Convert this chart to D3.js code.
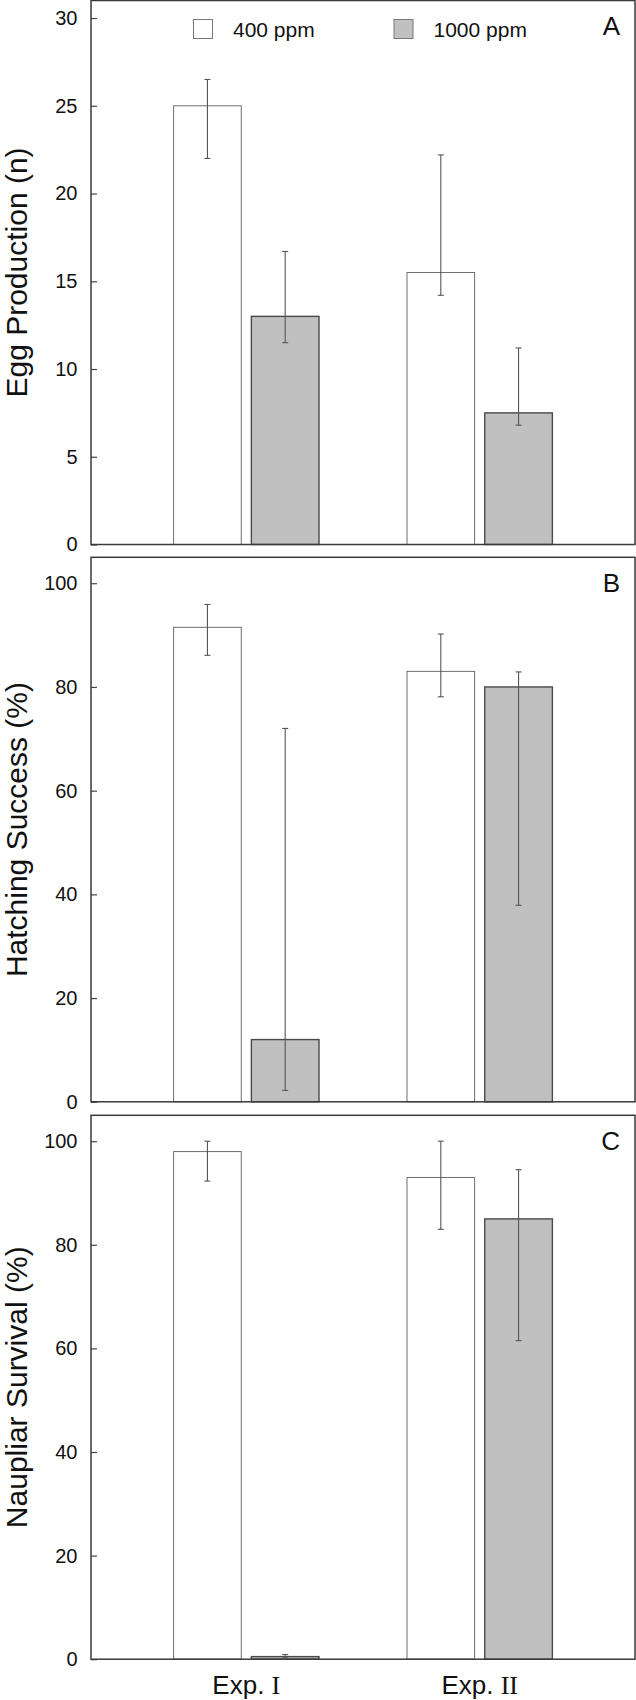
<!DOCTYPE html>
<html>
<head>
<meta charset="utf-8">
<script src="https://cdn.jsdelivr.net/npm/d3@7"></script>
<style>
  body { margin: 0; background: #fff; }
  text { font-family: "Liberation Sans", Arial, sans-serif; fill: #111; }
</style>
</head>
<body>
<div id="chart"></div>
<script>
// experiments and CO2 treatments
const groups = ['Exp. I', 'Exp. II'];
const numerals = ['I', 'II'];
const series = ['400 ppm', '1000 ppm'];

// A - egg production (n), [Exp I, Exp II]
const egg400 = [25, 15.5];
const egg400Upper = [26.5, 22.2];
const egg400Lower = [22, 14.2];
const egg1000 = [13, 7.5];
const egg1000Upper = [16.7, 11.2];
const egg1000Lower = [11.5, 6.8];

// B - hatching success (%)
const hatch400 = [91.5, 83];
const hatch400Upper = [95.9, 90.2];
const hatch400Lower = [86.1, 78.1];
const hatch1000 = [12, 80];
const hatch1000Upper = [72, 82.9];
const hatch1000Lower = [2.2, 37.9];

// C - naupliar survival (%)
const naup400 = [98, 93];
const naup400Upper = [100, 100];
const naup400Lower = [92.3, 83];
const naup1000 = [0.5, 85];
const naup1000Upper = [0.9, 94.5];
const naup1000Lower = [0.4, 61.5];

const eggTicks = [0, 5, 10, 15, 20, 25, 30];
const pctTicks = [0, 20, 40, 60, 80, 100];

const panels = [
    { label: 'A', title: 'Egg Production (n)', max: 31, ticks: eggTicks, top: 0.5, bottom: 544.5,
      mean: [egg400, egg1000], upper: [egg400Upper, egg1000Upper], lower: [egg400Lower, egg1000Lower] },
    { label: 'B', title: 'Hatching Success (%)', max: 105, ticks: pctTicks, top: 557.3, bottom: 1101.8,
      mean: [hatch400, hatch1000], upper: [hatch400Upper, hatch1000Upper], lower: [hatch400Lower, hatch1000Lower] },
    { label: 'C', title: 'Naupliar Survival (%)', max: 105, ticks: pctTicks, top: 1115.3, bottom: 1659.2,
      mean: [naup400, naup1000], upper: [naup400Upper, naup1000Upper], lower: [naup400Lower, naup1000Lower] },
];

const fills = ['#ffffff', '#c0c0c0'];
const strokes = ['#6e6e6e', '#4a4a4a'];
const left = 91, right = 635;

const svg = d3.select('#chart')
    .append('svg')
    .attr('width', 636)
    .attr('height', 1700);

const xGroup = d3.scaleBand()
    .domain(groups)
    .range([left, right])
    .paddingInner(0.377)
    .paddingOuter(0.354);

const xSeries = d3.scaleBand()
    .domain(series)
    .range([0, xGroup.bandwidth()])
    .paddingInner(0.13);

panels.forEach(p => {
    const y = d3.scaleLinear()
        .domain([0, p.max])
        .range([p.bottom, p.top]);

    const g = svg.append('g');

    // bars
    series.forEach((s, si) => {
        groups.forEach((grp, gi) => {
            const x0 = xGroup(grp) + xSeries(s);
            g.append('rect')
                .attr('x', x0)
                .attr('y', y(p.mean[si][gi]))
                .attr('width', xSeries.bandwidth())
                .attr('height', y(0) - y(p.mean[si][gi]))
                .attr('fill', fills[si])
                .attr('stroke', strokes[si])
                .attr('stroke-width', si ? 1.4 : 1);
        });
    });

    // error bars
    series.forEach((s, si) => {
        groups.forEach((grp, gi) => {
            const cx = xGroup(grp) + xSeries(s) + xSeries.bandwidth() / 2;
            const hi = y(p.upper[si][gi]);
            const lo = y(p.lower[si][gi]);
            const eb = g.append('g')
                .attr('stroke', '#555')
                .attr('stroke-width', 1.1);
            eb.append('line').attr('x1', cx).attr('x2', cx).attr('y1', hi).attr('y2', lo);
            eb.append('line').attr('x1', cx - 3).attr('x2', cx + 3).attr('y1', hi).attr('y2', hi);
            eb.append('line').attr('x1', cx - 3).attr('x2', cx + 3).attr('y1', lo).attr('y2', lo);
        });
    });

    // y axis, ticks pointing inward
    const axis = g.append('g')
        .attr('transform', 'translate(' + left + ',0)')
        .call(d3.axisLeft(y).tickValues(p.ticks).tickSize(-6).tickPadding(13.5));
    axis.select('.domain').remove();
    axis.selectAll('.tick line').attr('stroke', '#444').attr('stroke-width', 1.2);
    axis.selectAll('.tick text')
        .style('font-size', '20px')
        .style('font-family', '"Liberation Sans", Arial, sans-serif')
        .attr('fill', '#111');

    // frame
    g.append('rect')
        .attr('x', left)
        .attr('y', p.top)
        .attr('width', right - left)
        .attr('height', p.bottom - p.top)
        .attr('fill', 'none')
        .attr('stroke', '#3a3a3a')
        .attr('stroke-width', 1.5);

    // panel letter
    g.append('text')
        .attr('x', 620)
        .attr('y', p.top + 34.5)
        .attr('text-anchor', 'end')
        .style('font-size', '26px')
        .text(p.label);

    // y title
    g.append('text')
        .attr('transform', 'translate(27,' + ((p.top + p.bottom) / 2) + ') rotate(-90)')
        .attr('text-anchor', 'middle')
        .style('font-size', '30px')
        .text(p.title);
});

// legend
const legendX = [193.5, 394];
series.forEach((s, si) => {
    svg.append('rect')
        .attr('x', legendX[si])
        .attr('y', 19.5)
        .attr('width', 19)
        .attr('height', 19)
        .attr('fill', fills[si])
        .attr('stroke', '#777')
        .attr('stroke-width', 1);
    svg.append('text')
        .attr('x', legendX[si] + 39.5)
        .attr('y', 37)
        .style('font-size', '21px')
        .text(s);
});

// x labels
groups.forEach((grp, gi) => {
    const t = svg.append('text')
        .attr('x', xGroup(grp) + xGroup.bandwidth() / 2)
        .attr('y', 1694)
        .attr('text-anchor', 'middle')
        .style('font-size', '26px');
    t.append('tspan').text('Exp. ');
    t.append('tspan')
        .style('font-family', '"Liberation Serif", "Times New Roman", serif')
        .text(numerals[gi]);
});
</script>
</body>
</html>
